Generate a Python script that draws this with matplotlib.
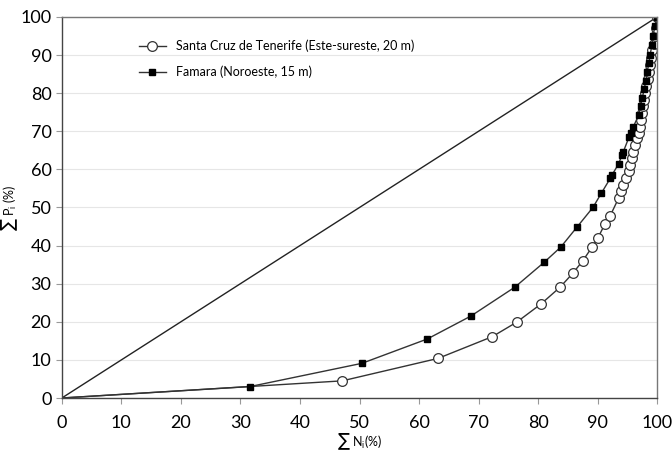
import matplotlib.pyplot as plt

plt.rcParams['font.family'] = ['Lato', 'DejaVu Sans']

# Santa Cruz de Tenerife (open circles)
sc_n = [0, 47.1, 63.2, 72.3, 76.4, 80.5, 83.7, 85.8, 87.5, 89.1, 90.0, 91.2, 92.1,
        93.5, 93.9, 94.3, 94.8, 95.2, 95.5, 95.8, 96.0, 96.3, 96.6, 96.9, 97.1,
        97.3, 97.4, 97.6, 97.8, 98.0, 98.2, 98.4, 98.6, 98.8, 99.0, 99.2, 99.4,
        99.6, 99.8, 100]
sc_p = [0, 4.5, 10.4, 16.1, 19.9, 24.7, 29.1, 32.7, 36.0, 39.7, 41.9, 45.6, 47.8,
        52.4, 54.2, 55.9, 57.7, 59.5, 61.2, 62.9, 64.6, 66.4, 68.2, 69.5, 71.2,
        73.0, 74.7, 76.5, 78.3, 80.1, 82.0, 83.8, 85.6, 87.5, 89.3, 91.2, 93.0,
        95.0, 97.0, 100]

# Famara (filled squares)
fa_n = [0, 31.6, 50.4, 61.4, 68.7, 76.1, 81.0, 83.8, 86.5, 89.2, 90.6, 92.1, 92.4,
        93.5, 94.1, 94.3, 95.3, 95.6, 96.0, 96.9, 97.2, 97.5, 97.8, 98.1, 98.3,
        98.6, 98.8, 99.1, 99.3, 99.6, 100]
fa_p = [0, 3.0, 9.1, 15.5, 21.5, 29.1, 35.6, 39.6, 44.8, 50.0, 53.7, 57.6, 58.5,
        61.4, 63.8, 64.6, 68.6, 69.5, 71.2, 74.3, 76.5, 78.8, 81.0, 83.2, 85.5,
        87.8, 90.0, 92.5, 95.0, 97.5, 100]

fig = plt.figure(figsize=(6.72, 4.51), dpi=100)
ax = fig.add_axes([0.092, 0.1175, 0.886, 0.845])

ax.plot([0, 100], [0, 100], color='#222222', lw=1.0)
ax.plot(sc_n, sc_p, color='#333333', lw=1.0, marker='o', markersize=7,
        markerfacecolor='white', markeredgecolor='#333333', markeredgewidth=0.9,
        markevery=slice(1, None),
        label='Santa Cruz de Tenerife (Este-sureste, 20 m)')
ax.plot(fa_n, fa_p, color='#333333', lw=1.0, marker='s', markersize=4,
        markerfacecolor='black', markeredgecolor='black',
        markevery=slice(1, None),
        label='Famara (Noroeste, 15 m)')

ax.set_xlim(0, 100)
ax.set_ylim(0, 100)
ax.set_xticks(range(0, 101, 10))
ax.set_yticks(range(0, 101, 10))
ax.tick_params(labelsize=13, length=4, color='#999999')
ax.tick_params(axis='x', pad=8)
ax.yaxis.grid(True, color='#e6e6e6', lw=0.8)
ax.set_axisbelow(True)
for s in ax.spines.values():
    s.set_color('#777777')
    s.set_linewidth(1.0)
ax.spines['left'].set_color('#444444')
ax.spines['bottom'].set_color('#444444')

ax.set_xlabel('∑ N$_\\mathregular{i}$(%)', fontsize=9)
ax.xaxis.set_label_coords(0.5, -0.088)
ax.set_ylabel('∑ P$_\\mathregular{i}$ (%)', fontsize=9)
ax.yaxis.set_label_coords(-0.07, 0.5)

ax.legend(loc='upper left', bbox_to_anchor=(0.11, 0.97), frameon=False,
          fontsize=9, handlelength=2.2, labelspacing=1.1)

fig.savefig('out.png')
